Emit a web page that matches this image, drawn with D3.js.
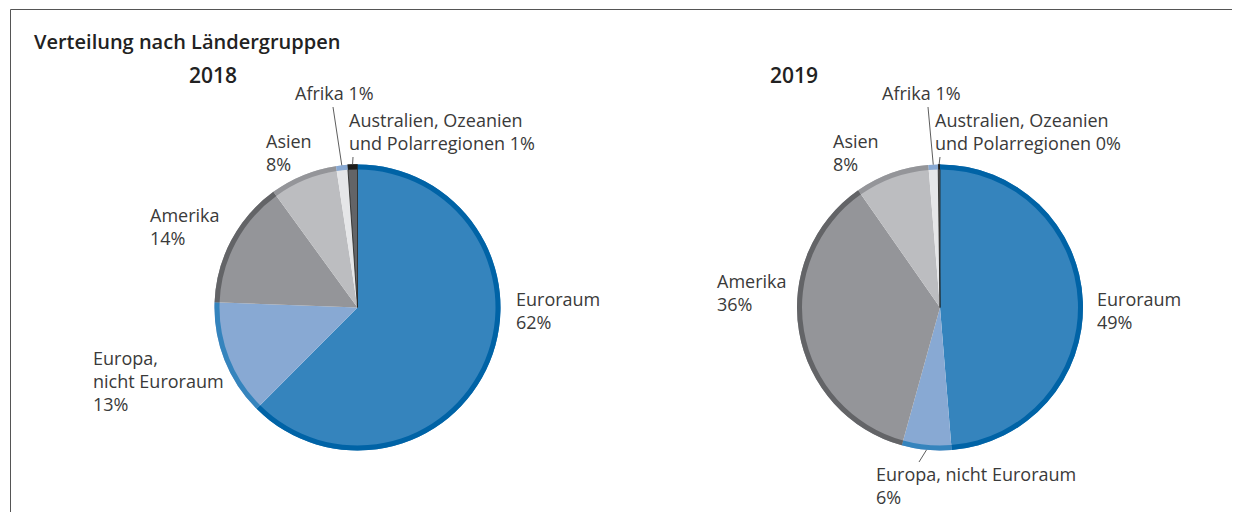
<!DOCTYPE html>
<html>
<head>
<meta charset="utf-8">
<script src="https://cdn.jsdelivr.net/npm/d3@7"></script>
<style>
  body { margin: 0; background: #fff; }
  text { font-family: "Open Sans", "Noto Sans", sans-serif; }
</style>
</head>
<body>
<script>
// categories (| marks a possible line break in the label)
const categories = ["Euroraum", "Europa,|nicht Euroraum", "Amerika", "Asien", "Afrika", "Australien, Ozeanien|und Polarregionen"];
const shares2018 = [62.4, 13.1, 14.4, 7.6, 1.3, 1.1];
const shares2019 = [48.7, 5.6, 36.0, 8.4, 1.1, 0.2];
const labels2018 = ["62%", "13%", "14%", "8%", "1%", "1%"];
const labels2019 = ["49%", "6%", "36%", "8%", "1%", "0%"];
const years = ["2018", "2019"];

const fills = ["#3584bd", "#88a9d3", "#949599", "#bcbdc0", "#e5e6e8", "#636467"];
const rims  = ["#0063a6", "#3584bd", "#636467", "#949599", "#88a9d3", "#1d1d1b"];

const width = 1234, height = 512;
const R = 143, rim = 5;

const svg = d3.select("body").append("svg")
    .attr("width", width)
    .attr("height", height);

// frame: top and left rule
svg.append("path")
    .attr("d", `M10.5,${height} V9.5 H1232`)
    .attr("fill", "none")
    .attr("stroke", "#555")
    .attr("stroke-width", 1);

svg.append("text")
    .attr("x", 34).attr("y", 49)
    .attr("font-size", 20)
    .attr("font-weight", 600)
    .attr("fill", "#222")
    .text("Verteilung nach Ländergruppen");

// label layout for each chart
const charts = [
  {
    year: years[0], shares: shares2018, labels: labels2018,
    cx: 357.5, cy: 307.5, titleX: 189,
    place: [
      {x: 516, y: 306, wrap: false, inline: false},
      {x: 93,  y: 365, wrap: true,  inline: false},
      {x: 150, y: 222, wrap: false, inline: false},
      {x: 266, y: 148, wrap: false, inline: false},
      {x: 295, y: 100, wrap: false, inline: true, leader: [333, 107]},
      {x: 349, y: 127, wrap: true,  inline: true, leader: [353, 157]}
    ]
  },
  {
    year: years[1], shares: shares2019, labels: labels2019,
    cx: 940, cy: 307.5, titleX: 770,
    place: [
      {x: 1097, y: 306, wrap: false, inline: false},
      {x: 876,  y: 481, wrap: false, inline: false, leader: [919, 462]},
      {x: 717,  y: 288, wrap: false, inline: false},
      {x: 833,  y: 148, wrap: false, inline: false},
      {x: 882,  y: 100, wrap: false, inline: true, leader: [928, 107]},
      {x: 935,  y: 127, wrap: true,  inline: true, leader: [940, 157]}
    ]
  }
];

const pie = d3.pie().sort(null).value(d => d);
const arcFill = d3.arc().innerRadius(0).outerRadius(R);
const arcRim = d3.arc().innerRadius(R - rim).outerRadius(R);

charts.forEach(c => {
    const g = svg.append("g").attr("transform", `translate(${c.cx},${c.cy})`);
    const arcs = pie(c.shares);

    g.selectAll("path.slice")
        .data(arcs)
        .enter().append("path")
        .attr("class", "slice")
        .attr("d", arcFill)
        .attr("fill", (d, i) => fills[i])
        .attr("stroke", (d, i) => i === 5 ? rims[5] : "none")
        .attr("stroke-width", 0.8);

    g.selectAll("path.rim")
        .data(arcs)
        .enter().append("path")
        .attr("class", "rim")
        .attr("d", arcRim)
        .attr("fill", (d, i) => rims[i]);

    svg.append("text")
        .attr("x", c.titleX).attr("y", 83)
        .attr("font-size", 21)
        .attr("font-weight", 600)
        .attr("fill", "#222")
        .text(c.year);

    // leader lines from the slice edge to the label
    c.place.forEach((p, i) => {
        if (!p.leader) return;
        const a = (arcs[i].startAngle + arcs[i].endAngle) / 2;
        svg.append("line")
            .attr("x1", c.cx + R * Math.sin(a))
            .attr("y1", c.cy - R * Math.cos(a))
            .attr("x2", p.leader[0])
            .attr("y2", p.leader[1])
            .attr("stroke", "#333")
            .attr("stroke-width", 0.8);
    });

    // labels
    c.place.forEach((p, i) => {
        let lines = p.wrap ? categories[i].split("|") : [categories[i].replace("|", " ")];
        if (p.inline) lines[lines.length - 1] += " " + c.labels[i];
        else lines.push(c.labels[i]);
        const t = svg.append("text")
            .attr("x", p.x).attr("y", p.y)
            .attr("font-size", 18)
            .attr("fill", "#3a3a3a");
        lines.forEach((l, k) => {
            t.append("tspan")
                .attr("x", p.x)
                .attr("dy", k === 0 ? 0 : 23)
                .text(l);
        });
    });
});
</script>
</body>
</html>
